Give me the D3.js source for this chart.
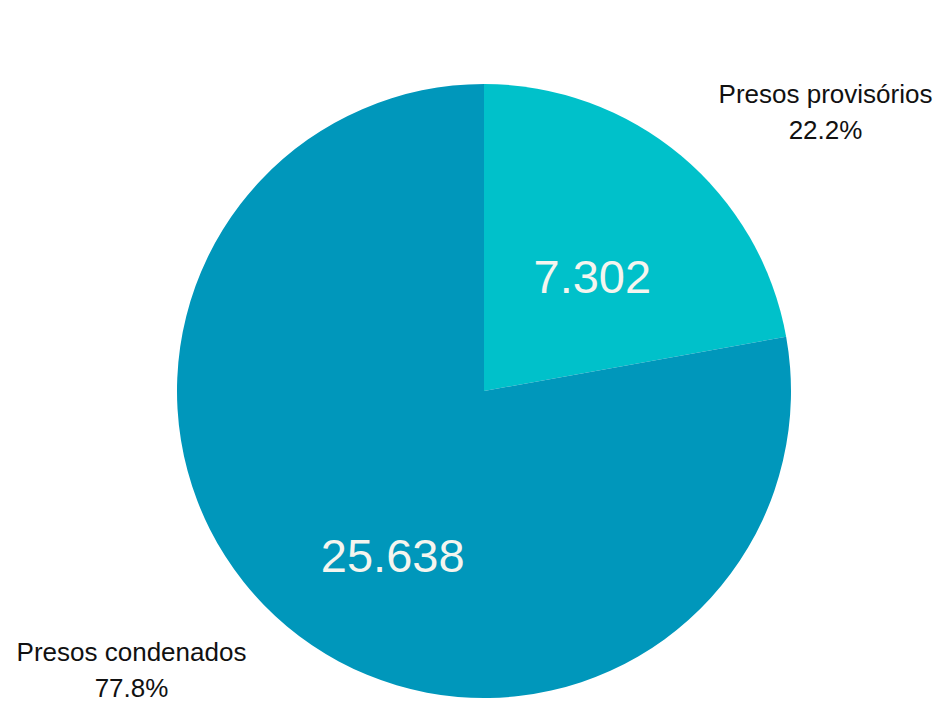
<!DOCTYPE html>
<html><head><meta charset="utf-8">
<script src="https://cdn.jsdelivr.net/npm/d3@7"></script>
<style>html,body{margin:0;padding:0;background:#fff;}</style>
</head><body>
<svg id="chart" width="941" height="701"></svg>
<script>
const categories = ["Presos provisórios", "Presos condenados"];
const values = [7302, 25638];
const valueLabels = ["7.302", "25.638"];
const percentLabels = ["22.2%", "77.8%"];
const colors = ["#00c1ca", "#0097bb"];

const W = 941, H = 701;
const cx = 484, cy = 391, R = 307;
const svg = d3.select("#chart");
const g = svg.append("g").attr("transform", `translate(${cx},${cy})`);

const pie = d3.pie().sort(null).value(d => d)(values);
const arc = d3.arc().innerRadius(0).outerRadius(R);

g.selectAll("path.slice").data(pie).enter().append("path")
  .attr("class", "slice")
  .attr("d", arc)
  .attr("fill", (d, i) => colors[i]);

// value labels inside slices
const labelArc = d3.arc().innerRadius(R * 0.55).outerRadius(R * 0.55);
const inOffsets = [[0, 15], [17, 35]];
g.selectAll("text.val").data(pie).enter().append("text")
  .attr("class", "val")
  .attr("transform", (d, i) => {
    const c = labelArc.centroid(d);
    return `translate(${c[0] + inOffsets[i][0]},${c[1] + inOffsets[i][1]})`;
  })
  .attr("text-anchor", "middle")
  .attr("dominant-baseline", "central")
  .attr("font-family", "Liberation Sans, Arial, sans-serif")
  .attr("font-size", 47)
  .attr("fill", "#f5f5ef")
  .text((d, i) => valueLabels[i]);

// outer labels
const outerPos = [[825.5, 103], [131.5, 661]];
const lbl = svg.selectAll("g.outer").data(pie).enter().append("g")
  .attr("class", "outer")
  .attr("transform", (d, i) => `translate(${outerPos[i][0]},${outerPos[i][1]})`);
lbl.append("text")
  .attr("text-anchor", "middle")
  .attr("font-family", "Liberation Sans, Arial, sans-serif")
  .attr("font-size", 26)
  .attr("fill", "#111")
  .text((d, i) => categories[i]);
lbl.append("text")
  .attr("text-anchor", "middle")
  .attr("y", 36)
  .attr("font-family", "Liberation Sans, Arial, sans-serif")
  .attr("font-size", 26)
  .attr("fill", "#111")
  .text((d, i) => percentLabels[i]);
</script>
</body></html>
